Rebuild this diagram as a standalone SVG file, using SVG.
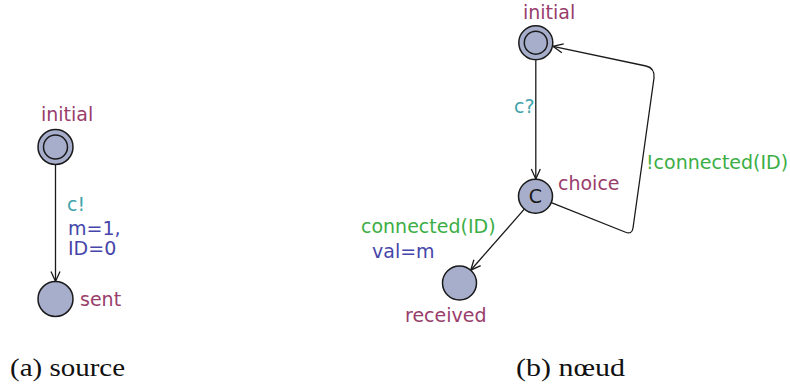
<svg xmlns="http://www.w3.org/2000/svg" width="790" height="387" viewBox="0 0 790 387">
<style>
.loc{fill:#a6aecb;stroke:#1a1a1a;stroke-width:1.5}
.t{font-family:"DejaVu Sans",sans-serif;font-size:19px}
.name{fill:#993d6b}
.sync{fill:#3fa3ab}
.guard{fill:#3cae45}
.assign{fill:#4646aa}
.edge{fill:none;stroke:#1a1a1a;stroke-width:1.3}
.cap{font-family:"Liberation Serif",serif;font-size:25px;fill:#111}
</style>
<defs>
<marker id="arr" viewBox="-12 -6 14 12" markerWidth="14" markerHeight="12" refX="0" refY="0" orient="auto" markerUnits="userSpaceOnUse">
<path d="M-10,-4.5 L0,0 L-10,4.5" fill="none" stroke="#1a1a1a" stroke-width="1.3"/>
</marker>
</defs>
<rect width="790" height="387" fill="#fff"/>
<g id="connectors">
<path class="edge" d="M55.5,164.5 L55.5,281.5" marker-end="url(#arr)" stroke="#444" stroke-width="1.6"/>
<path class="edge" d="M535.8,60.2 L535.8,179" marker-end="url(#arr)"/>
<path class="edge" d="M524.3,209.1 L470.7,270.2" marker-end="url(#arr)"/>
<path class="edge" d="M551.3,202.6 L625,232 Q632,235 633,228 L654,78 Q655,68 646,66 L553,46.3" marker-end="url(#arr)"/>
</g>
<g id="edge-labels">
<text class="t sync" x="67" y="211">c!</text>
<text class="t assign" x="68" y="235">m=1,</text>
<text class="t assign" x="68" y="255">ID=0</text>
<text class="t sync" x="514" y="113">c?</text>
<text class="t guard" x="646" y="169">!connected(ID)</text>
<text class="t guard" x="361" y="233">connected(ID)</text>
<text class="t assign" x="372" y="258">val=m</text>
</g>
<g id="src-initial">
<circle class="loc" cx="55.5" cy="147" r="17.5"/>
<circle class="loc" cx="55.5" cy="147" r="12"/>
<text class="t name" x="41" y="121">initial</text>
</g>
<g id="src-sent">
<circle class="loc" cx="55.5" cy="299" r="17.5"/>
<text class="t name" x="80" y="306">sent</text>
</g>
<g id="n-initial">
<circle class="loc" cx="535.8" cy="42.7" r="17"/>
<circle class="loc" cx="535.8" cy="42.7" r="11.5"/>
<text class="t name" x="523" y="18.5">initial</text>
</g>
<g id="n-choice">
<circle class="loc" cx="535.5" cy="196.3" r="17"/>
<text class="t" x="535.5" y="203.3" text-anchor="middle" fill="#1a1a1a" font-size="20">C</text>
<text class="t name" x="558" y="190">choice</text>
</g>
<g id="n-received">
<circle class="loc" cx="459.5" cy="283" r="17"/>
<text class="t name" x="405" y="322">received</text>
</g>
<g id="captions">
<text class="cap" x="10" y="376" textLength="115" lengthAdjust="spacingAndGlyphs">(a) source</text>
<text class="cap" x="516" y="376" textLength="109" lengthAdjust="spacingAndGlyphs">(b) nœud</text>
</g>
</svg>
